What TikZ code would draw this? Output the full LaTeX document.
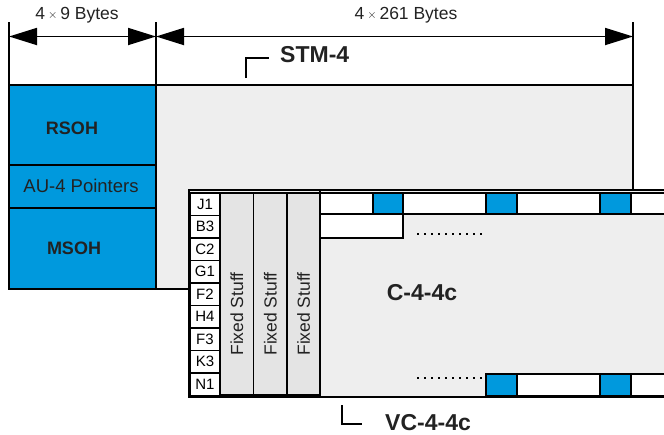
\documentclass[tikz,border=0pt]{standalone}
\usepackage{fontspec}
\setmainfont{Liberation Sans}
\usetikzlibrary{arrows.meta}
\definecolor{sdhblue}{HTML}{0099DD}
\definecolor{lgray}{HTML}{EEEEEE}
\definecolor{mgray}{HTML}{E4E4E4}
\definecolor{txt}{HTML}{222222}
\tikzset{
  frame/.style={draw=black, line width=1.8pt, inner sep=0pt, outer sep=0pt, text=txt},
  bluebox/.style={frame, fill=sdhblue},
  whitebox/.style={frame, fill=white, line width=1.5pt},
  graybox/.style={frame, fill=lgray},
  fixbox/.style={frame, fill=mgray, line width=1.5pt},
  lbl/.style={font=\fontsize{17.5}{17.5}\selectfont, text=txt},
  aulbl/.style={font=\fontsize{18.5}{18.5}\selectfont, text=txt},
  blbl/.style={font=\fontsize{18}{18}\selectfont\bfseries, text=txt},
  biglbl/.style={font=\fontsize{23}{23}\selectfont\bfseries, text=txt, inner sep=1pt},
  slbl/.style={font=\fontsize{15}{15}\selectfont, text=black},
  dimarrow/.style={line width=1.8pt, {Triangle[length=28pt,width=17pt]}-{Triangle[length=28pt,width=17pt]}},
  tick/.style={line width=1.8pt},
  bracket/.style={line width=1.5pt},
  dots/.style={line width=2.4pt, dash pattern=on 2.2pt off 4.8pt}
}
\newcommand\bx[7]{\node[#6, minimum width={(#4-#2)*1pt}, minimum height={(#5-#3)*1pt}] (#1) at ({(#2+#4)/2},{(#3+#5)/2}) {#7};}
\begin{document}
\begin{tikzpicture}[x=1pt,y=-1pt]
\useasboundingbox (0,0) rectangle (664,434);
\clip (0,0) rectangle (664,434);
% dimension lines
\coordinate (t1a) at (9,22); \coordinate (t1b) at (9,86);
\coordinate (t2a) at (156,22); \coordinate (t2b) at (156,86);
\coordinate (t3a) at (633,22); \coordinate (t3b) at (633,86);
\draw[tick] (t1a) -- (t1b);
\draw[tick] (t2a) -- (t2b);
\draw[tick] (t3a) -- (t3b);
\coordinate (d1) at (9,36.5); \coordinate (d2) at (156,36.5); \coordinate (d3) at (633,36.5);
\draw[dimarrow] (d1) -- (d2);
\draw[dimarrow] (d2) -- (d3);
\node[lbl] (w9) at (77,15) {4\,\raisebox{0.5pt}{\fontsize{13}{13}\selectfont$\times$}\,9 Bytes};
\node[lbl] (w261) at (406,15) {4\,\raisebox{0.5pt}{\fontsize{13}{13}\selectfont$\times$}\,261 Bytes};
% STM-4 frame
\bx{stm}{156}{85}{633}{289}{graybox}{}
\bx{rsoh}{9}{85}{156}{165}{bluebox}{}
\bx{au4}{9}{165}{156}{208}{bluebox}{}
\bx{msoh}{9}{208}{156}{289}{bluebox}{}
\node[blbl] (rsohl) at (72,128) {RSOH};
\node[aulbl] (au4l) at (81,186) {AU-4 Pointers};
\node[blbl] (msohl) at (74,248) {MSOH};
% STM-4 label
\coordinate (sb1) at (246,78); \coordinate (sb2) at (246,58); \coordinate (sb3) at (269,58);
\draw[bracket] (sb1) -- (sb2) -- (sb3);
\node[biglbl, anchor=west] (stmlbl) at (279,55) {STM-4};
% VC-4-4c
\bx{vc}{189}{190}{680}{397}{graybox}{}
\foreach \n [count=\i from 0] in {J1,B3,C2,G1,F2,H4,F3,K3,N1}{
  \pgfmathsetmacro\ya{193+22.5*\i}
  \pgfmathsetmacro\yb{193+22.5*(\i+1)}
  \bx{r\n}{190}{\ya}{220}{\yb}{whitebox,slbl}{\n}
}
\bx{fs1}{220}{193}{253.5}{395}{fixbox}{}
\bx{fs2}{253.5}{193}{287}{395}{fixbox}{}
\bx{fs3}{287}{193}{320}{395}{fixbox}{}
\foreach \k in {1,2,3}{\node[lbl, rotate=90] (fst\k) at ([yshift=-20pt]fs\k.center) {Fixed Stuff};}
\draw[line width=1.8pt] (vc.north west) ++(131,0) coordinate (pl) -- (pl |- vc.south);
% top row
\bx{a1}{320}{193}{373}{214}{whitebox}{}
\bx{a2}{373}{193}{403}{214}{bluebox,line width=1.5pt}{}
\bx{a3}{403}{193}{486}{214}{whitebox}{}
\bx{a4}{486}{193}{517}{214}{bluebox,line width=1.5pt}{}
\bx{a5}{517}{193}{600}{214}{whitebox}{}
\bx{a6}{600}{193}{631}{214}{bluebox,line width=1.5pt}{}
\bx{a7}{631}{193}{690}{214}{whitebox}{}
\bx{b1}{320}{214}{403}{238}{whitebox}{}
\coordinate (dt1) at (417,234); \coordinate (dt2) at (482,234);
\draw[dots] (dt1) -- (dt2);
% bottom row
\bx{c1}{486}{374}{517}{396}{bluebox,line width=1.5pt}{}
\bx{c2}{517}{374}{600}{396}{whitebox}{}
\bx{c3}{600}{374}{631}{396}{bluebox,line width=1.5pt}{}
\bx{c4}{631}{374}{690}{396}{whitebox}{}
\coordinate (db1) at (417,378); \coordinate (db2) at (482,378);
\draw[dots] (db1) -- (db2);
\node[biglbl] (c44) at (422,293) {C-4-4c};
% VC label
\coordinate (vb1) at (342,405); \coordinate (vb2) at (342,424); \coordinate (vb3) at (362,424);
\draw[bracket] (vb1) -- (vb2) -- (vb3);
\node[biglbl, anchor=west] (vclbl) at (384,422.5) {VC-4-4c};
\end{tikzpicture}
\end{document}
